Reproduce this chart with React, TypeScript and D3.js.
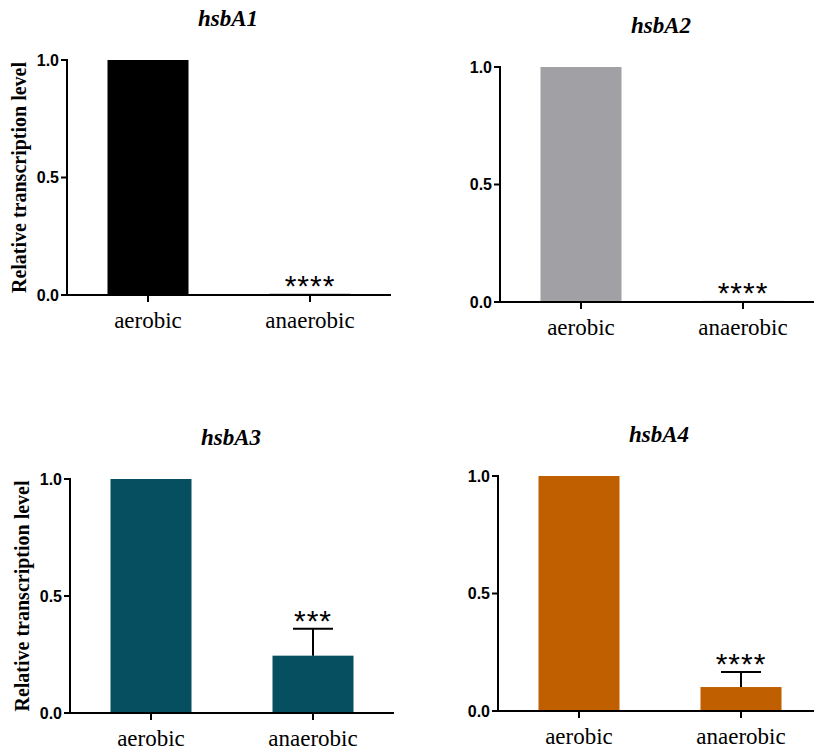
import * as React from 'react'
import * as d3 from 'd3'

const categories = ['aerobic', 'anaerobic']
const genes = ['hsbA1', 'hsbA2', 'hsbA3', 'hsbA4']
const meanValues = [
  [1, 0.005],
  [1, 0.005],
  [1, 0.245],
  [1, 0.102],
]
const errorValues = [
  [0, 0],
  [0, 0],
  [0, 0.115],
  [0, 0.064],
]
const significance = ['****', '****', '***', '****']
const barColors = ['#000000', '#a0a0a5', '#054f60', '#c05f00']
const yTicks = [0, 0.5, 1.0]
const yTitle = 'Relative transcription level'

// panel placement: left edge of y axis, pixel y of 1.0, pixel y of 0.0
const panels = [
  { x: 67, top: 60, bottom: 295, showTitle: true },
  { x: 500, top: 67, bottom: 302, showTitle: false },
  { x: 70, top: 479, bottom: 713, showTitle: true },
  { x: 498, top: 476, bottom: 711, showTitle: false },
]

const W = 814
const H = 751
const plotWidth = 324
const serif: React.CSSProperties = { fontFamily: '"Liberation Serif"' }
const sans: React.CSSProperties = { fontFamily: '"Liberation Sans"' }
const fmt = d3.format('.1f')

function Panel({ idx }: { idx: number }) {
  const p = panels[idx]
  const xScale = d3.scaleBand()
    .domain(categories)
    .range([p.x, p.x + plotWidth])
    .paddingInner(0.5)
    .paddingOuter(0.25)
  const yScale = d3.scaleLinear().domain([0, 1]).range([p.bottom, p.top])
  const bw = xScale.bandwidth()

  return (
    <g>
      {categories.map((c, j) => {
        const v = meanValues[idx][j]
        const e = errorValues[idx][j]
        const bx = xScale(c)!
        const cx = bx + bw / 2
        const ey = yScale(v + e)
        const topY = e > 0 ? ey : yScale(v)
        return (
          <g key={c}>
            <rect x={bx} y={yScale(v)} width={bw} height={Math.max(1, yScale(0) - yScale(v))} fill={barColors[idx]} />
            {e > 0 && (
              <g stroke="#000" strokeWidth={2}>
                <line x1={cx} x2={cx} y1={yScale(v)} y2={ey} />
                <line x1={cx - 20} x2={cx + 20} y1={ey} y2={ey} />
              </g>
            )}
            {j === 1 && (
              <text x={cx} y={topY + 2} textAnchor="middle" style={{ ...sans, fontSize: 30, letterSpacing: 1 }} fill="#000">
                {significance[idx]}
              </text>
            )}
          </g>
        )
      })}

      {/* y axis */}
      <line x1={p.x} x2={p.x} y1={p.bottom} y2={p.top - 1} stroke="#000" strokeWidth={2} />
      {yTicks.map(t => (
        <g key={t}>
          <line x1={p.x - 6} x2={p.x} y1={yScale(t)} y2={yScale(t)} stroke="#000" strokeWidth={2} />
          <text x={p.x - 8} y={yScale(t)} dy="0.36em" textAnchor="end" style={{ ...sans, fontSize: 16, fontWeight: 'bold' }} fill="#000">
            {fmt(t)}
          </text>
        </g>
      ))}

      {/* x axis */}
      <line x1={p.x - 6} x2={p.x + plotWidth} y1={p.bottom} y2={p.bottom} stroke="#000" strokeWidth={2} />
      {categories.map(c => {
        const cx = xScale(c)! + bw / 2
        return (
          <g key={c}>
            <line x1={cx} x2={cx} y1={p.bottom} y2={p.bottom + 7} stroke="#000" strokeWidth={2} />
            <text x={cx} y={p.bottom + 33} textAnchor="middle" style={{ ...serif, fontSize: 23 }} fill="#000">
              {c}
            </text>
          </g>
        )
      })}

      <text x={p.x + 161} y={p.top - 34} textAnchor="middle" style={{ ...serif, fontSize: 23, fontWeight: 'bold', fontStyle: 'italic' }} fill="#000">
        {genes[idx]}
      </text>

      {p.showTitle && (
        <text
          transform={`translate(${p.x - 41},${(p.top + p.bottom) / 2}) rotate(-90)`}
          textAnchor="middle"
          style={{ ...serif, fontSize: 20, fontWeight: 'bold' }}
          fill="#000"
        >
          {yTitle}
        </text>
      )}
    </g>
  )
}

export default function App() {
  return (
    <svg width={W} height={H} style={{ position: 'absolute', left: 0, top: 0, background: '#fff' }}>
      {panels.map((_, i) => <Panel key={i} idx={i} />)}
    </svg>
  )
}
